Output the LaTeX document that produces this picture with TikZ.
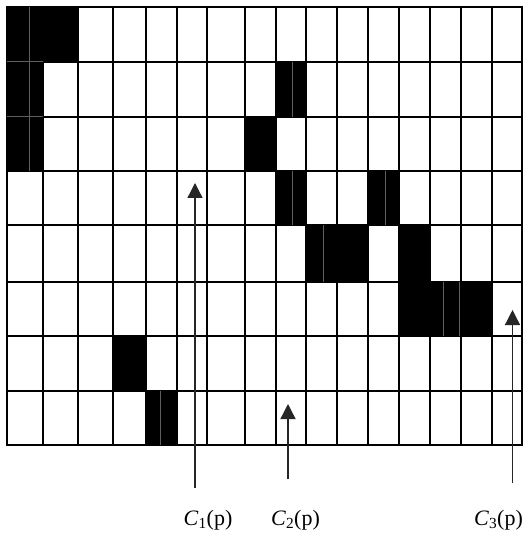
\documentclass[tikz,border=0pt]{standalone}
\usepackage{fontspec}
\setmainfont{Liberation Serif}
\usetikzlibrary{arrows.meta}
\definecolor{seamgray}{RGB}{95,95,95}

\begin{document}
\begin{tikzpicture}[x=1pt, y=-1pt,
    gridline/.style={draw=black, line width=1.9pt, line cap=rect},
    cell/.style={fill=black},
    seam/.style={draw=seamgray, line width=0.6pt},
    ptr/.style={draw=black!85, line width=1.3pt, -{Triangle[length=15pt,width=15pt]}},
    lab/.style={font=\fontsize{22}{26}\selectfont, anchor=base}]
  \useasboundingbox (0,0) rectangle (525,534);

  % ---------- grid lines (uneven columns) ----------------------------------
  \foreach \x [count=\i from 0] in {7.3,42.7,77.7,112.7,145.7,176.7,206.7,245,275.7,
      305.7,336.7,368.3,399,429.7,461,492.3,521.7}
    { \coordinate (v\i) at (\x,0); }
  \foreach \y [count=\j from 0] in {7.3,61.7,116.7,170.7,225,281.7,336,390.7,445}
    { \coordinate (h\j) at (0,\y); }

  \foreach \i in {0,...,16} { \draw[gridline] (v\i |- h0) -- (v\i |- h8); }
  \foreach \j in {0,...,8}  { \draw[gridline] (v0 |- h\j) -- (v16 |- h\j); }

  % ---------- black cells: row / first col / last col ----------------------
  \foreach \r/\a/\b in {0/0/1,1/0/0,1/8/8,2/0/0,2/7/7,3/8/8,3/11/11,
      4/9/10,4/12/12,5/12/14,6/3/3,7/4/4} {
    \pgfmathtruncatemacro\rr{\r+1}
    \pgfmathtruncatemacro\bb{\b+1}
    \fill[cell] ([xshift=-0.95pt,yshift=0.95pt]v\a |- h\r)
      rectangle ([xshift=0.95pt,yshift=-0.95pt]v\bb |- h\rr); }

  % faint seams inside the black cells
  \foreach \x/\ya/\yb in {29/7.3/170.7,292/61.7/116.7,292/170.7/225,385/170.7/225,
      323/225/281.7,443/281.7/336,459/281.7/336,160/390.7/445}
    { \draw[seam] (\x,\ya) -- (\x,\yb); }
  \draw[seam] (v0 |- h1) -- (v1 |- h1);
  \draw[seam] (v0 |- h2) -- (v1 |- h2);

  % ---------- pointers and labels ------------------------------------------
  \coordinate (p1t) at (195,183);   \coordinate (p1b) at (195,488);
  \coordinate (p2t) at (288,404);   \coordinate (p2b) at (288,479);
  \coordinate (p3t) at (512.5,310); \coordinate (p3b) at (512.5,483);
  \draw[ptr] (p1b) -- (p1t);
  \draw[ptr] (p2b) -- (p2t);
  \draw[ptr] (p3b) -- (p3t);

  \node[lab] (c1) at (208,525) {\textit{C}\textsubscript{1}(p)};
  \node[lab] (c2) at (295.5,525) {\textit{C}\textsubscript{2}(p)};
  \node[lab] (c3) at (498.5,525) {\textit{C}\textsubscript{3}(p)};
\end{tikzpicture}
\end{document}
